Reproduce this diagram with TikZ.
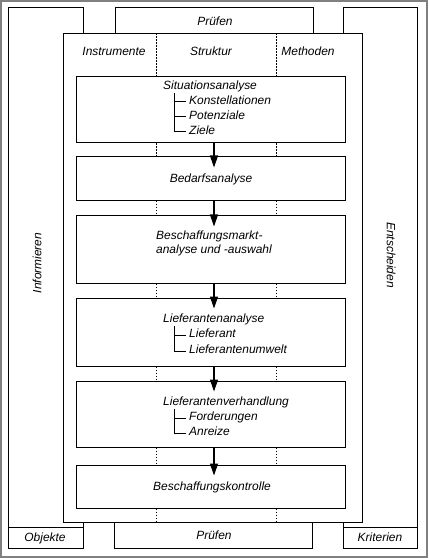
\documentclass[tikz,border=0pt]{standalone}
\usepackage{fontspec}
\setmainfont{Liberation Sans}
\usetikzlibrary{arrows.meta}
\begin{document}
\begin{tikzpicture}[x=1bp,y=-1bp,
  every node/.style={font=\fontsize{12}{14}\selectfont\itshape, inner sep=0pt},
  frame/.style={draw=black, line width=1bp},
  panel/.style={frame, fill=white},
  stepbox/.style={frame, fill=white, minimum width=268bp},
  lbl/.style={text height=9bp, text depth=2.5bp},
  dotline/.style={line width=1bp, dash pattern=on 1.2bp off 1.8bp},
  arr/.style={line width=1.1bp, -{Triangle[length=12bp,width=8bp]}},
  tree/.style={line width=1bp}]
\useasboundingbox (0,0) rectangle (428,558);
\draw[gray, line width=2bp] (1,1) rectangle (427,557);

% side columns
\node[frame, minimum width=74bp, minimum height=519bp] (info) at (46,267.5) {};
\node[lbl, rotate=90] (infot) at (38,263) {Informieren};
\node[frame, minimum width=74bp, minimum height=21bp] (obj) at (46,537.5) {};
\node[lbl] (objt) at (45,538) {Objekte};
\node[frame, minimum width=74bp, minimum height=519bp] (ent) at (380,267.5) {};
\node[lbl, rotate=-90] (entt) at (390,255) {Entscheiden};
\node[frame, minimum width=74bp, minimum height=21bp] (krit) at (380,537.5) {};
\node[lbl] (kritt) at (380,538) {Kriterien};

% Prüfen boxes
\node[frame, minimum width=198bp, minimum height=26bp] (ptop) at (214,21) {};
\node[lbl] (ptopt) at (215,22) {Prüfen};
\node[frame, minimum width=198bp, minimum height=26bp] (pbot) at (213.5,535) {};
\node[lbl] (pbott) at (214,536) {Prüfen};

% middle panel
\node[panel, minimum width=298bp, minimum height=488bp] (mid) at (213,278) {};
\node[lbl] (h1) at (114,52) {Instrumente};
\node[lbl] (h2) at (211,52) {Struktur};
\node[lbl] (h3) at (308,52) {Methoden};

\coordinate (dl) at (156,0);
\coordinate (dr) at (276,0);
\coordinate (ax) at (214,0);

% step boxes
\node[stepbox, minimum height=66bp] (b1) at (211,110) {};
\node[stepbox, minimum height=43bp] (b2) at (211,178.5) {};
\node[stepbox, minimum height=67bp] (b3) at (211,249.5) {};
\node[stepbox, minimum height=68bp] (b4) at (211,332) {};
\node[stepbox, minimum height=66bp] (b5) at (211,414) {};
\node[stepbox, minimum height=43bp] (b6) at (211,486.5) {};

% box 1
\node[lbl, anchor=west] (s1) at (163,86) {Situationsanalyse};
\node[lbl, anchor=west] (s1a) at (189,101) {Konstellationen};
\node[lbl, anchor=west] (s1b) at (189,116) {Potenziale};
\node[lbl, anchor=west] (s1c) at (189,131) {Ziele};
\coordinate (t1) at (174,93);
\draw[tree] (t1) |- ([xshift=-3bp,yshift=-1bp]s1c.west);
\draw[tree] (t1 |- s1a.west) ++(0,1) -- ++(12,0);
\draw[tree] (t1 |- s1b.west) ++(0,1) -- ++(12,0);

% box 2
\node[lbl] (s2) at (211,179) {Bedarfsanalyse};

% box 3
\node[lbl, align=left] (s3) at (214,250) {Beschaffungsmarkt-\\analyse und -auswahl};

% box 4
\node[lbl, anchor=west] (s4) at (163,319) {Lieferantenanalyse};
\node[lbl, anchor=west] (s4a) at (189,334) {Lieferant};
\node[lbl, anchor=west] (s4b) at (189,350) {Lieferantenumwelt};
\coordinate (t4) at (174,326);
\draw[tree] (t4) |- ([xshift=-3bp,yshift=-1bp]s4b.west);
\draw[tree] (t4 |- s4a.west) ++(0,1) -- ++(12,0);

% box 5
\node[lbl, anchor=west] (s5) at (163,402) {Lieferantenverhandlung};
\node[lbl, anchor=west] (s5a) at (189,417) {Forderungen};
\node[lbl, anchor=west] (s5b) at (189,432) {Anreize};
\coordinate (t5) at (174,409);
\draw[tree] (t5) |- ([xshift=-3bp,yshift=-1bp]s5b.west);
\draw[tree] (t5 |- s5a.west) ++(0,1) -- ++(12,0);

% box 6
\node[lbl] (s6) at (212,487) {Beschaffungskontrolle};

% dotted dividers
\foreach \c in {dl,dr}{
  \draw[dotline] (mid.north -| \c) -- (b1.north -| \c);
  \draw[dotline] (b1.south -| \c) -- (b2.north -| \c);
  \draw[dotline] (b2.south -| \c) -- (b3.north -| \c);
  \draw[dotline] (b3.south -| \c) -- (b4.north -| \c);
  \draw[dotline] (b4.south -| \c) -- (b5.north -| \c);
  \draw[dotline] (b5.south -| \c) -- (b6.north -| \c);
  \draw[dotline] (b6.south -| \c) -- (mid.south -| \c);
}

% arrows
\draw[arr] (b1.south -| ax) -- ([yshift=-11bp]b2.north -| ax);
\draw[arr] (b2.south -| ax) -- ([yshift=-11bp]b3.north -| ax);
\draw[arr] (b3.south -| ax) -- ([yshift=-11bp]b4.north -| ax);
\draw[arr] (b4.south -| ax) -- ([yshift=-11bp]b5.north -| ax);
\draw[arr] (b5.south -| ax) -- ([yshift=-11bp]b6.north -| ax);
\end{tikzpicture}
\end{document}
